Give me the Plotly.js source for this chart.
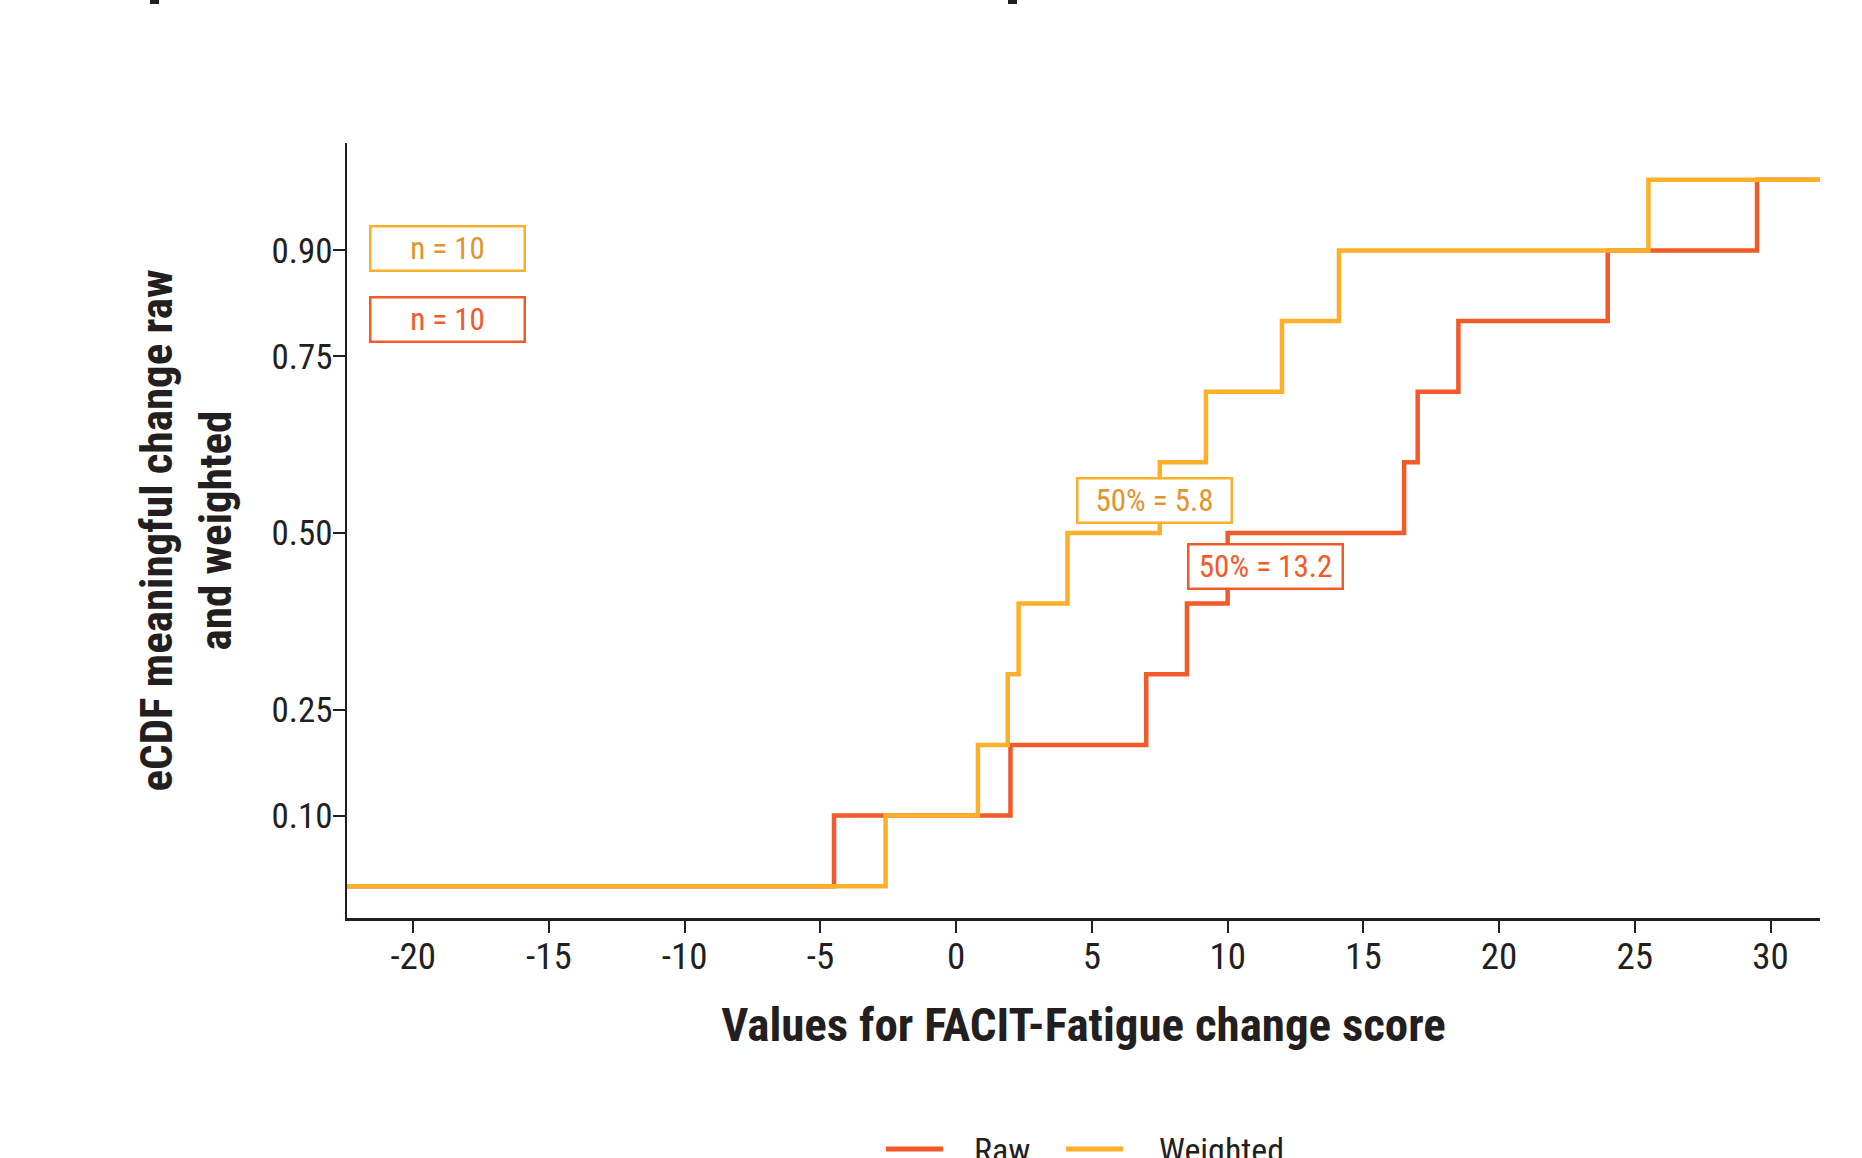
<!DOCTYPE html>
<html>
<head>
<meta charset="utf-8">
<script src="https://cdn.plot.ly/plotly-3.0.1.min.js"></script>
<style>html,body{margin:0;padding:0;background:#fff;}</style>
</head>
<body>
<div id="chart" style="width:1862px;height:1158px;"></div>
<script>
// ---- data ----
const seriesNames = ['Raw', 'Weighted'];
const eCDFLevels = [0.1, 0.2, 0.3, 0.4, 0.5, 0.6, 0.7, 0.8, 0.9, 1.0];
const rawValues = [-4.5, 2.0, 7.0, 8.5, 10.0, 16.5, 17.0, 18.5, 24.0, 29.5];
const weightedValues = [-2.6, 0.8, 1.9, 2.3, 4.1, 7.5, 9.2, 12.0, 14.1, 25.5];
const sampleSizes = [10, 10];          // Raw, Weighted
const medianValues = [13.2, 5.8];      // Raw, Weighted
const xTickVals = [-20, -15, -10, -5, 0, 5, 10, 15, 20, 25, 30];
const yTickVals = [0.10, 0.25, 0.50, 0.75, 0.90];
const yTickLabels = ['0.10', '0.25', '0.50', '0.75', '0.90'];

// ---- styling ----
const W = 1862, H = 1158;
const M = {l: 347, r: 42, t: 143, b: 240};
const PW = W - M.l - M.r, PH = H - M.t - M.b;
const px2paperX = p => (p - M.l) / PW;
const px2paperY = p => (H - M.b - p) / PH;

const xRange = [-22.44, 31.82];
const yRange = [-0.045, 1.052];
const colRaw = '#F15A29';
const colW = '#FBAF2A';
const colWText = '#E0962E';
const ink = '#231F20';
const FONT = '"Liberation Sans Narrow", "Arial Narrow", "Roboto Condensed", "DejaVu Sans Condensed", "Liberation Sans", sans-serif';

function stepXY(vals, levels) {
  const x = [xRange[0]].concat(vals, [xRange[1]]);
  const y = [0].concat(levels, [levels[levels.length - 1]]);
  return {x, y};
}

const rawXY = stepXY(rawValues, eCDFLevels);
const wXY = stepXY(weightedValues, eCDFLevels);

const traces = [
  {x: rawXY.x, y: rawXY.y, name: seriesNames[0], type: 'scatter', mode: 'lines',
   line: {shape: 'hv', color: colRaw, width: 4.5}, hoverinfo: 'x+y'},
  {x: wXY.x, y: wXY.y, name: seriesNames[1], type: 'scatter', mode: 'lines',
   line: {shape: 'hv', color: colW, width: 4.5}, hoverinfo: 'x+y'}
];

function boxAnn(text, x, y, color, textColor) {
  return {
    text: text, x: x, y: y, xref: 'x', yref: 'y', showarrow: false,
    font: {family: FONT, size: 31, color: textColor},
    bgcolor: '#ffffff', bordercolor: color, borderwidth: 2.5, borderpad: 2,
    width: 148, height: 38, align: 'center', valign: 'middle'
  };
}

const annotations = [
  boxAnn('n = ' + sampleSizes[1], -18.74, 0.902, colW, colWText),
  boxAnn('n = ' + sampleSizes[0], -18.74, 0.802, colRaw, colRaw),
  boxAnn('50% = ' + medianValues[1].toFixed(1), 7.29, 0.5455, colW, colWText),
  boxAnn('50% = ' + medianValues[0].toFixed(1), 11.41, 0.453, colRaw, colRaw)
];

// legend (drawn as line keys + text, cut by the bottom edge like the reference)
const legendY = 1149;
const legendItems = [
  {name: seriesNames[0], color: colRaw, x0: 886, x1: 943, tx: 972},
  {name: seriesNames[1], color: colW, x0: 1066, x1: 1123, tx: 1157}
];
const shapes = [];
legendItems.forEach(it => {
  shapes.push({type: 'line', xref: 'paper', yref: 'paper',
    x0: px2paperX(it.x0), x1: px2paperX(it.x1), y0: px2paperY(legendY), y1: px2paperY(legendY),
    line: {color: it.color, width: 5}});
  annotations.push({text: it.name, xref: 'paper', yref: 'paper',
    x: px2paperX(it.tx), y: px2paperY(1150), xanchor: 'left', yanchor: 'middle',
    showarrow: false, font: {family: FONT, size: 34, color: ink}});
});
// small dark remnants at the very top edge
shapes.push({type: 'rect', xref: 'paper', yref: 'paper', x0: px2paperX(150), x1: px2paperX(159),
  y0: px2paperY(4), y1: px2paperY(-4), fillcolor: ink, line: {width: 0}});
shapes.push({type: 'rect', xref: 'paper', yref: 'paper', x0: px2paperX(1008), x1: px2paperX(1017),
  y0: px2paperY(4), y1: px2paperY(-4), fillcolor: ink, line: {width: 0}});

const layout = {
  width: W, height: H,
  paper_bgcolor: '#ffffff', plot_bgcolor: '#ffffff',
  margin: {l: M.l, r: M.r, t: M.t, b: M.b, autoexpand: false},
  font: {family: FONT, color: ink, size: 34},
  showlegend: false,
  xaxis: {
    range: xRange, tickvals: xTickVals, ticktext: xTickVals.map(String),
    showgrid: false, zeroline: false, showline: true, linecolor: ink, linewidth: 2.5,
    ticks: 'outside', ticklen: 12, tickwidth: 2, tickcolor: ink,
    ticklabelstandoff: -8,
    tickfont: {family: FONT, size: 37, color: ink},
    title: {text: 'Values for FACIT-Fatigue change score', standoff: 31,
            font: {family: FONT, size: 47, color: ink, weight: 'bold'}},
    fixedrange: true
  },
  yaxis: {
    range: yRange, tickvals: yTickVals, ticktext: yTickLabels,
    showgrid: false, zeroline: false, showline: true, linecolor: ink, linewidth: 2.5,
    ticks: 'outside', ticklen: 12, tickwidth: 2, tickcolor: ink,
    ticklabelstandoff: -7,
    tickfont: {family: FONT, size: 35, color: ink},
    title: {text: 'eCDF meaningful change raw<br>and weighted', standoff: 26,
            font: {family: FONT, size: 45, color: ink, weight: 'bold'}},
    fixedrange: true
  },
  annotations: annotations,
  shapes: shapes
};

Plotly.newPlot('chart', traces, layout, {displayModeBar: false, staticPlot: true});
</script>
</body>
</html>
